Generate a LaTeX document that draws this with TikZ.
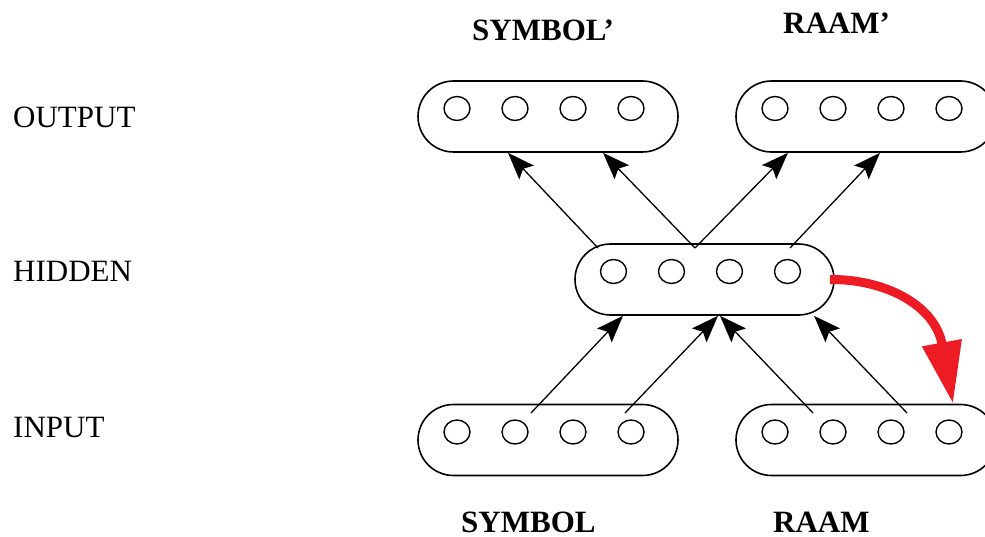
\documentclass[tikz,border=0pt]{standalone}
\usepackage{fontspec}
\setmainfont{Liberation Serif}
\usetikzlibrary{arrows.meta}
\definecolor{raamred}{RGB}{237,28,36}
\tikzset{
  pill/.style={draw, line width=1.6pt, rounded corners=35.5pt, minimum width=260pt, minimum height=71pt, inner sep=0pt},
  unit/.style={line width=1.4pt},
  conn/.style={line width=1.3pt, -{Stealth[length=27pt,width=20pt,inset=5pt]}},
  redconn/.style={raamred, line width=9pt, -{Triangle[length=62pt,width=38pt]}},
  lbl/.style={inner sep=0pt, anchor=base west, font=\fontsize{31}{36}\selectfont},
  blbl/.style={lbl, font=\fontsize{31}{36}\selectfont\bfseries},
}
\begin{document}
\begin{tikzpicture}[x=1pt,y=-1pt]
\useasboundingbox (0,0) rectangle (985,537);
% layer pills
\node[pill] (out1) at (548,116.5) {};
\node[pill] (out2) at (866,116.5) {};
\node[pill, minimum width=259pt] (hid) at (704.5,279.5) {};
\node[pill] (in1) at (548,440) {};
\node[pill] (in2) at (866,440) {};
% units
\foreach \p in {out1,out2,hid,in1,in2}{
  \foreach \dx in {-91,-33,25,83}{
    \draw[unit] ([shift={(\dx,-8)}]\p.center) ellipse (13 and 12);
  }
}
% labels
\node[lbl] (lout) at (13,128) {OUTPUT};
\node[lbl] (lhid) at (13,282) {HIDDEN};
\node[lbl] (lin) at (13,437) {INPUT};
\node[blbl] (lsymo) at (472,41) {SYMBOL’};
\node[blbl] (lraamo) at (783,34) {RAAM’};
\node[blbl] (lsym) at (461,532) {SYMBOL};
\node[blbl] (lraam) at (773,532) {RAAM};
% hidden -> output
\draw[conn] ([shift={(-106.5,-31.5)}]hid.center) -- ([xshift=-40]out1.south);
\draw[conn] ([shift={(-9.5,-31.5)}]hid.center) -- ([xshift=55]out1.south);
\draw[conn] ([shift={(-9.5,-31.5)}]hid.center) -- ([xshift=-78]out2.south);
\draw[conn] ([shift={(85.5,-31.5)}]hid.center) -- ([xshift=14]out2.south);
% input -> hidden
\draw[conn] ([shift={(-17,-27)}]in1.center) -- ([xshift=-81.5]hid.south);
\draw[conn] ([shift={(77,-27)}]in1.center) -- ([xshift=13.5]hid.south);
\draw[conn] ([shift={(-53,-27)}]in2.center) -- ([xshift=15.5]hid.south);
\draw[conn] ([shift={(41,-27)}]in2.center) -- ([xshift=109.5]hid.south);
% recurrent copy
\draw[redconn] ([xshift=-5]hid.east) .. controls (885,279) and (935,305) .. ([xshift=87]in2.north);
\end{tikzpicture}
\end{document}
